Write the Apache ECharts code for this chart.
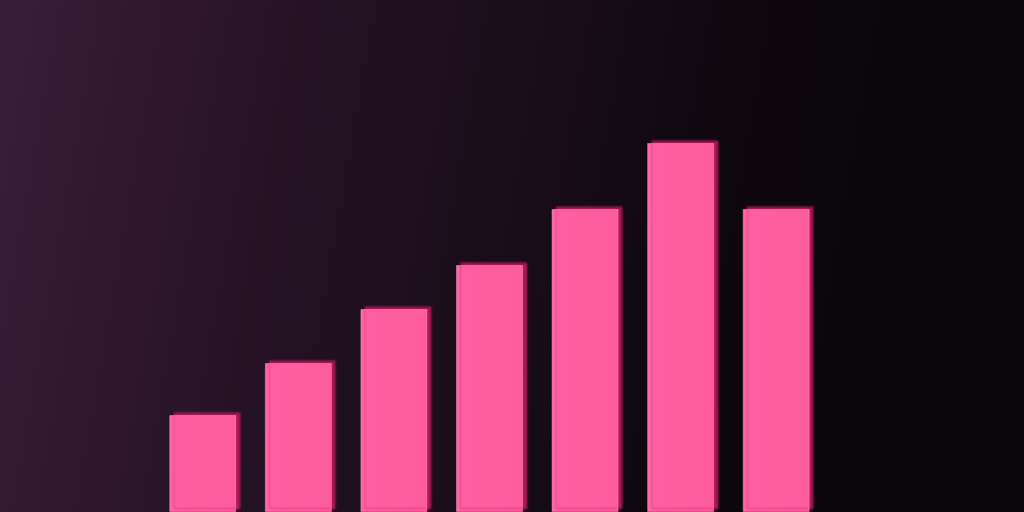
<!DOCTYPE html>
<html><head><meta charset="utf-8">
<script src="https://cdn.jsdelivr.net/npm/echarts@6/dist/echarts.min.js"></script>
<style>html,body{margin:0;padding:0;background:#000}#c{width:1024px;height:512px}</style>
</head><body><div id="c"></div>
<script>
const categories = ['1','2','3','4','5','6','7'];
const values = [97, 149, 203, 247, 303, 369, 303];
const yMax = 512;

const chart = echarts.init(document.getElementById('c'));
chart.setOption({
  animation: false,
  backgroundColor: {
    type: 'linear', x: 0, y: 0, x2: 1, y2: 0.35,
    colorStops: [
      {offset: 0, color: '#381d36'},
      {offset: 0.35, color: '#211121'},
      {offset: 0.7, color: '#0f080f'},
      {offset: 1, color: '#070507'}
    ]
  },
  grid: {left: 155, right: 1024 - 155 - 669, top: 0, bottom: 0},
  xAxis: {type: 'category', data: categories, show: false},
  yAxis: {type: 'value', min: 0, max: yMax, show: false},
  series: [{
    type: 'bar',
    data: values,
    barWidth: 67,
    itemStyle: {
      color: {
        type: 'linear', x: 0, y: 0, x2: 1, y2: 0,
        colorStops: [
          {offset: 0, color: '#ff6aa8'},
          {offset: 0.1, color: '#ff5fa0'},
          {offset: 1, color: '#fd5c9d'}
        ]
      },
      borderColor: 'rgba(255,140,190,0.5)',
      borderWidth: 1,
      shadowColor: 'rgba(190,25,95,0.9)',
      shadowBlur: 2,
      shadowOffsetX: 4,
      shadowOffsetY: -3
    }
  }]
});
</script></body></html>
